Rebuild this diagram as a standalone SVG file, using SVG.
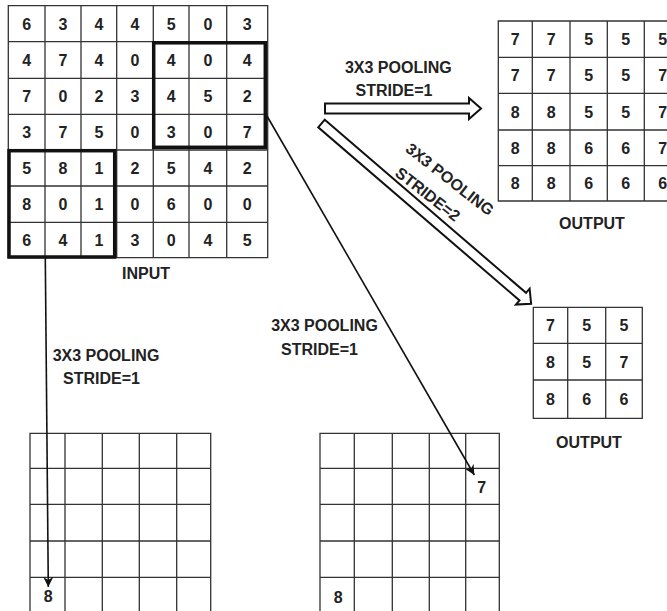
<svg xmlns="http://www.w3.org/2000/svg" width="667" height="611" viewBox="0 0 667 611">
<style>
.g{fill:none;stroke:#333;stroke-width:1.3}
.thick{fill:none;stroke:#111;stroke-width:3.5}
text{font-family:"Liberation Sans",Arial,sans-serif;font-weight:bold;font-size:16px;fill:#222}
.c{text-anchor:middle}
.ln{fill:none;stroke:#111;stroke-width:1.6}
.hol{fill:#fff;stroke:#111;stroke-width:2;stroke-linejoin:miter}
</style>
<defs>
<marker id="ah" viewBox="0 0 10 10" refX="10" refY="5" markerWidth="10" markerHeight="10" markerUnits="userSpaceOnUse" orient="auto">
<path d="M0,0 L10,5 L0,10 L3,5 z" fill="#111"/>
</marker>
</defs>
<rect width="667" height="611" fill="#fff"/>

<g id="input-grid">
<path class="g" d="M8.3,5.7H267.7V257.7H8.3Z M45,5.7V257.7 M81,5.7V257.7 M116.7,5.7V257.7 M153.3,5.7V257.7 M189,5.7V257.7 M226.7,5.7V257.7 M8.3,41.7H267.7 M8.3,78.3H267.7 M8.3,114.3H267.7 M8.3,150H267.7 M8.3,186H267.7 M8.3,222.3H267.7"/>
<rect class="thick" x="153.7" y="42.8" width="111.6" height="104.5"/>
<rect class="thick" x="9" y="150.7" width="105.7" height="106.3"/>
<g class="c">
<text x="26.6" y="29.5">6</text><text x="63" y="29.5">3</text><text x="98.9" y="29.5">4</text><text x="135" y="29.5">4</text><text x="171.2" y="29.5">5</text><text x="207.9" y="29.5">0</text><text x="247.2" y="29.5">3</text>
<text x="26.6" y="65.8">4</text><text x="63" y="65.8">7</text><text x="98.9" y="65.8">4</text><text x="135" y="65.8">0</text><text x="171.2" y="65.8">4</text><text x="207.9" y="65.8">0</text><text x="247.2" y="65.8">4</text>
<text x="26.6" y="102.1">7</text><text x="63" y="102.1">0</text><text x="98.9" y="102.1">2</text><text x="135" y="102.1">3</text><text x="171.2" y="102.1">4</text><text x="207.9" y="102.1">5</text><text x="247.2" y="102.1">2</text>
<text x="26.6" y="138">3</text><text x="63" y="138">7</text><text x="98.9" y="138">5</text><text x="135" y="138">0</text><text x="171.2" y="138">3</text><text x="207.9" y="138">0</text><text x="247.2" y="138">7</text>
<text x="26.6" y="173.8">5</text><text x="63" y="173.8">8</text><text x="98.9" y="173.8">1</text><text x="135" y="173.8">2</text><text x="171.2" y="173.8">5</text><text x="207.9" y="173.8">4</text><text x="247.2" y="173.8">2</text>
<text x="26.6" y="210">8</text><text x="63" y="210">0</text><text x="98.9" y="210">1</text><text x="135" y="210">0</text><text x="171.2" y="210">6</text><text x="207.9" y="210">0</text><text x="247.2" y="210">0</text>
<text x="26.6" y="245.8">6</text><text x="63" y="245.8">4</text><text x="98.9" y="245.8">1</text><text x="135" y="245.8">3</text><text x="171.2" y="245.8">0</text><text x="207.9" y="245.8">4</text><text x="247.2" y="245.8">5</text>
</g>
<text class="c" x="146" y="279">INPUT</text>
</g>

<g id="output-stride1">
<path class="g" d="M498.3,21H681V201H498.3Z M532.3,21V201 M570,21V201 M607.3,21V201 M644.3,21V201 M498.3,57.3H681 M498.3,93.3H681 M498.3,130H681 M498.3,165.7H681"/>
<g class="c">
<text x="515.3" y="45">7</text><text x="551.2" y="45">7</text><text x="588.7" y="45">5</text><text x="625.8" y="45">5</text><text x="662.7" y="45">5</text>
<text x="515.3" y="81.1">7</text><text x="551.2" y="81.1">7</text><text x="588.7" y="81.1">5</text><text x="625.8" y="81.1">5</text><text x="662.7" y="81.1">7</text>
<text x="515.3" y="117.5">8</text><text x="551.2" y="117.5">8</text><text x="588.7" y="117.5">5</text><text x="625.8" y="117.5">5</text><text x="662.7" y="117.5">7</text>
<text x="515.3" y="153.7">8</text><text x="551.2" y="153.7">8</text><text x="588.7" y="153.7">6</text><text x="625.8" y="153.7">6</text><text x="662.7" y="153.7">7</text>
<text x="515.3" y="189.2">8</text><text x="551.2" y="189.2">8</text><text x="588.7" y="189.2">6</text><text x="625.8" y="189.2">6</text><text x="662.7" y="189.2">6</text>
</g>
<text class="c" x="592" y="228.5">OUTPUT</text>
</g>

<g id="output-stride2">
<path class="g" d="M533.3,307.3H642.3V418.3H533.3Z M567.7,307.3V418.3 M605.7,307.3V418.3 M533.3,343.3H642.3 M533.3,380H642.3"/>
<g class="c">
<text x="550.5" y="331.1">7</text><text x="586.7" y="331.1">5</text><text x="624" y="331.1">5</text>
<text x="550.5" y="367.5">8</text><text x="586.7" y="367.5">5</text><text x="624" y="367.5">7</text>
<text x="550.5" y="405">8</text><text x="586.7" y="405">6</text><text x="624" y="405">6</text>
</g>
<text class="c" x="589" y="447.5">OUTPUT</text>
</g>

<g id="bottom-left-grid">
<path class="g" d="M30,613.3V433.3H210.7V613.3 M65,433.3V613.3 M102.3,433.3V613.3 M139.3,433.3V613.3 M176.7,433.3V613.3 M30,468.3H210.7 M30,504.3H210.7 M30,541H210.7 M30,577.3H210.7"/>
<text class="c" x="48.3" y="601.8">8</text>
</g>

<g id="bottom-right-grid">
<path class="g" d="M320,613.3V433.3H499.3V613.3 M354.3,433.3V613.3 M392.3,433.3V613.3 M429.3,433.3V613.3 M465.7,433.3V613.3 M320,468.3H499.3 M320,504.3H499.3 M320,541H499.3 M320,577.3H499.3"/>
<text class="c" x="338.3" y="602.5">8</text>
<text class="c" x="481.7" y="492.5">7</text>
</g>

<g id="labels">
<text class="c" x="398.3" y="72.5">3X3 POOLING</text>
<text class="c" x="394" y="96">STRIDE=1</text>
<text class="c" transform="translate(450,179) rotate(38)" x="0" y="5.8">3X3 POOLING</text>
<text class="c" transform="translate(428,194) rotate(38)" x="0" y="5.8">STRIDE=2</text>
<text class="c" x="324.5" y="331">3X3 POOLING</text>
<text class="c" x="319.5" y="355">STRIDE=1</text>
<text class="c" x="106" y="361">3X3 POOLING</text>
<text class="c" x="101.5" y="384">STRIDE=1</text>
</g>

<g id="connectors">
<path class="hol" d="M325,103.5H469V98L481,108.5L469,119V113.5H325Z"/>
<path class="hol" transform="translate(321.5,123.5) rotate(40.7)" d="M0,-5H265.5V-10.5L276.5,0L265.5,10.5V5H0Z"/>
<line class="ln" x1="45.3" y1="258" x2="48.3" y2="587" marker-end="url(#ah)"/>
<line class="ln" x1="267" y1="116" x2="474.3" y2="475" marker-end="url(#ah)"/>
</g>
</svg>
